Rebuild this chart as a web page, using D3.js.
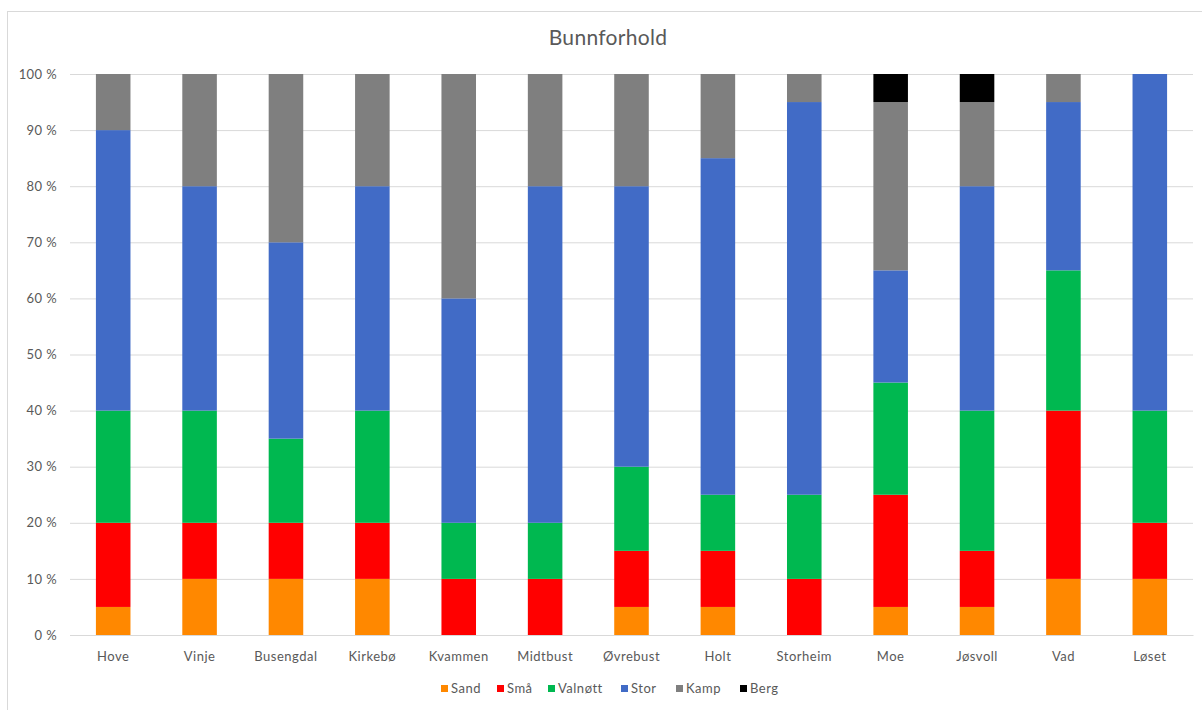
<!DOCTYPE html>
<html><head><meta charset="utf-8">
<script src="https://cdn.jsdelivr.net/npm/d3@7"></script>
<style>body{margin:0;background:#fff}svg{display:block}text{font-family:Lato,"Open Sans",sans-serif;fill:#595959}</style>
</head><body>
<svg id="c" width="1202" height="710"></svg>
<script>
const categories = ["Hove","Vinje","Busengdal","Kirkebø","Kvammen","Midtbust","Øvrebust","Holt","Storheim","Moe","Jøsvoll","Vad","Løset"];
const seriesNames = ["Sand","Små","Valnøtt","Stor","Kamp","Berg"];
const colors = ["#ff8800","#ff0000","#00b850","#416bc6","#7f7f7f","#000000"];
const sand    = [5,10,10,10,0,0,5,5,0,5,5,10,10];
const smaa    = [15,10,10,10,10,10,10,10,10,20,10,30,10];
const valnott = [20,20,15,20,10,10,15,10,15,20,25,25,20];
const stor    = [50,40,35,40,40,60,50,60,70,20,40,30,60];
const kamp    = [10,20,30,20,40,20,20,15,5,30,15,5,0];
const berg    = [0,0,0,0,0,0,0,0,0,5,5,0,0];
const yTicks  = [0,10,20,30,40,50,60,70,80,90,100];

const seriesVals = [sand,smaa,valnott,stor,kamp,berg];
const rows = categories.map((c,i)=>{const r={cat:c};seriesNames.forEach((s,j)=>r[s]=seriesVals[j][i]);return r;});
const stack = d3.stack().keys(seriesNames)(rows);

const svg = d3.select("#c");
svg.append("rect").attr("x",7.5).attr("y",11.5).attr("width",1200).attr("height",705)
  .attr("fill","#fff").attr("stroke","#d9d9d9");

const x = d3.scaleBand().domain(categories).range([70,1193]).paddingInner(0.6).paddingOuter(0.3);
const y = d3.scaleLinear().domain([0,100]).range([635,74]);

const yAxis = svg.append("g").attr("transform","translate(70,0)")
  .call(d3.axisLeft(y).tickValues(yTicks).tickSize(-(1193-70)).tickFormat(d=>d+" %"));
yAxis.select(".domain").remove();
yAxis.selectAll("line").attr("stroke","#d9d9d9").attr("stroke-width",1);
yAxis.selectAll("text").attr("x",-13).style("font-size","13px").style("letter-spacing","0.4px").attr("fill","#595959");

const g = svg.append("g");
stack.forEach((layer,j)=>{
  g.selectAll(null).data(layer.filter(d=>d[1]-d[0]>0)).join("rect")
   .attr("x",d=>x(d.data.cat)).attr("width",x.bandwidth())
   .attr("y",d=>y(d[1])).attr("height",d=>y(d[0])-y(d[1]))
   .attr("fill",colors[j]);
});

const xAxis = svg.append("g").attr("transform","translate(0,635)")
  .call(d3.axisBottom(x).tickSize(0).tickPadding(17));
xAxis.select(".domain").attr("stroke","#d9d9d9");
xAxis.selectAll("text").style("font-size","13px").style("letter-spacing","0.5px").attr("fill","#595959");

svg.append("text").attr("x",608).attr("y",45).attr("text-anchor","middle")
  .style("font-size","21px").style("letter-spacing","0.3px").text("Bunnforhold");

const legX = [441,497,548,621,676,740];
const leg = svg.append("g");
seriesNames.forEach((s,j)=>{
  leg.append("rect").attr("x",legX[j]).attr("y",685).attr("width",7).attr("height",7).attr("fill",colors[j]);
  leg.append("text").attr("x",legX[j]+10).attr("y",693).style("font-size","13px").style("letter-spacing","0.5px").text(s);
});
</script>
</body></html>
